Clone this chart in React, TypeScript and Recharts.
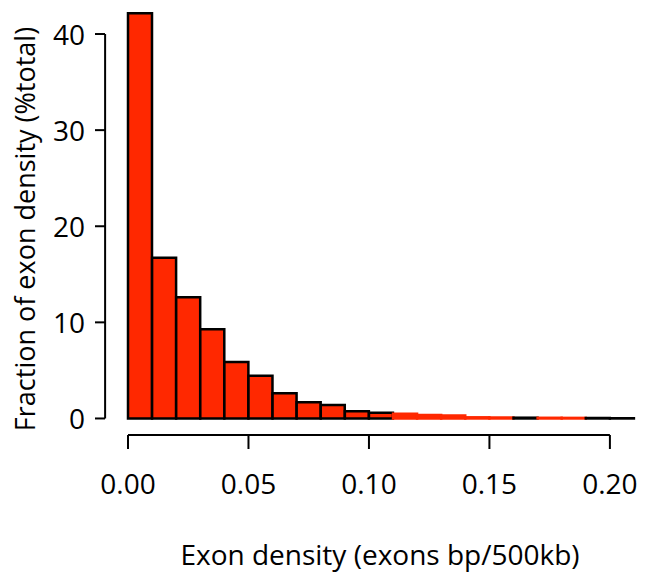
import { BarChart, Bar, Cell, XAxis, YAxis, ReferenceLine } from "recharts";

// histogram bins (left edges) and fraction of total per bin
const binStarts = [0, 0.01, 0.02, 0.03, 0.04, 0.05, 0.06, 0.07, 0.08, 0.09, 0.1, 0.11, 0.12, 0.13, 0.14, 0.15, 0.16, 0.17, 0.18, 0.19, 0.2];
const fractions = [42.17, 16.73, 12.61, 9.28, 5.88, 4.45, 2.62, 1.69, 1.4, 0.75, 0.6, 0.5, 0.35, 0.3, 0.12, 0.1, 0.08, 0.07, 0.06, 0.05, 0.02];
const xTicks = [0, 0.05, 0.1, 0.15, 0.2];
const yTicks = [0, 10, 20, 30, 40];

const RED = "#FF2800";
// the thin bars on the right lose their black border in the original
const binOutline = ["#000", "#000", "#000", "#000", "#000", "#000", "#000", "#000", "#000", "#000", "#000", RED, RED, RED, RED, RED, "#000", RED, RED, "#000", "#000"];

const data = binStarts.map((b, i) => ({ bin: b, pct: fractions[i] }));

const Y_MIN = -1.72;

const YTick = ({ y, payload }: any) => (
  <g>
    <line x1={95} x2={105} y1={y} y2={y} stroke="#000" strokeWidth={2} />
    <text x={85} y={y} textAnchor="end" dominantBaseline="central" fontSize={28} fill="#000">
      {payload.value}
    </text>
  </g>
);

const YTitle = () => (
  <text transform="translate(24 229) rotate(-90)" textAnchor="middle" dominantBaseline="central" fontSize={27} fill="#000">
    Fraction of exon density (%total)
  </text>
);

const XTitle = () => (
  <text x={380} y={565} textAnchor="middle" fontSize={28} fill="#000">
    Exon density (exons bp/500kb)
  </text>
);

export default function App() {
  return (
    <div style={{ position: "absolute", left: 0, top: 0, fontFamily: "'Open Sans', sans-serif", background: "#fff" }}>
      <BarChart
        width={648}
        height={576}
        data={data}
        margin={{ top: 10, right: 14, left: 0, bottom: 0 }}
        barCategoryGap={0}
        barGap={0}
      >
        <XAxis xAxisId="cat" dataKey="bin" hide height={0} />
        <XAxis
          xAxisId="num"
          dataKey="bin"
          type="number"
          domain={[0, 0.21]}
          allowDataOverflow
          ticks={xTicks}
          interval={0}
          tickFormatter={(v: number) => v.toFixed(2)}
          axisLine={false}
          tickSize={14}
          tickMargin={25}
          tickLine={{ stroke: "#000", strokeWidth: 2 }}
          tick={{ fill: "#000", fontSize: 28 }}
          height={141}
          label={<XTitle />}
        />
        <YAxis
          domain={[Y_MIN, 42.5]}
          allowDataOverflow
          ticks={yTicks}
          width={128}
          axisLine={false}
          tickLine={false}
          tick={<YTick />}
          label={<YTitle />}
        />
        <ReferenceLine
          xAxisId="num"
          ifOverflow="visible"
          segment={[{ x: -0.0095, y: 0 }, { x: -0.0095, y: 40 }]}
          stroke="#000"
          strokeWidth={2}
        />
        <ReferenceLine
          xAxisId="num"
          ifOverflow="visible"
          segment={[{ x: 0, y: Y_MIN }, { x: 0.2, y: Y_MIN }]}
          stroke="#000"
          strokeWidth={2}
        />
        <Bar xAxisId="cat" dataKey="pct" fill={RED} strokeWidth={2.5} isAnimationActive={false}>
          {data.map((d, i) => (
            <Cell key={d.bin} fill={RED} stroke={binOutline[i]} />
          ))}
        </Bar>
      </BarChart>
    </div>
  );
}
